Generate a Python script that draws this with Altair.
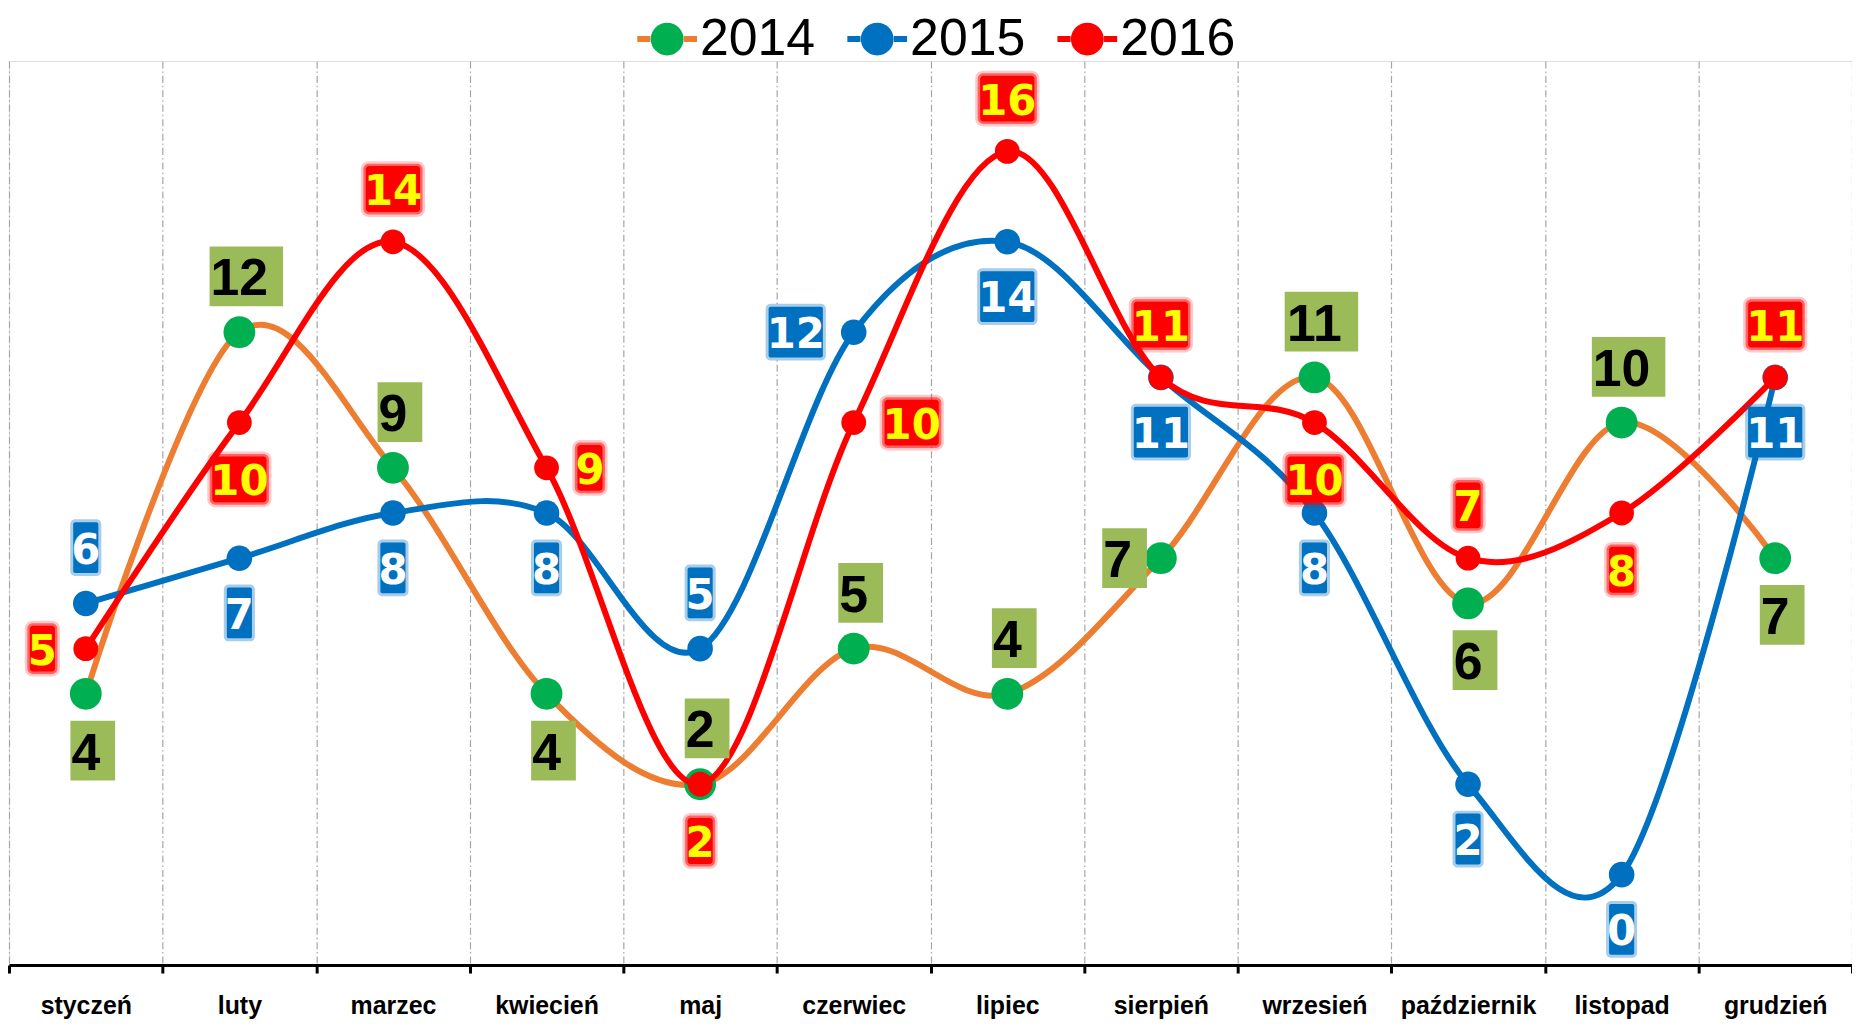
import altair as alt
import pandas as pd

months = ["styczeń", "luty", "marzec", "kwiecień", "maj", "czerwiec", "lipiec",
          "sierpień", "wrzesień", "październik", "listopad", "grudzień"]
series_names = ["2014", "2015", "2016"]
v2014 = [4, 12, 9, 4, 2, 5, 4, 7, 11, 6, 10, 7]
v2015 = [6, 7, 8, 8, 5, 12, 14, 11, 8, 2, 0, 11]
v2016 = [5, 10, 14, 9, 2, 10, 16, 11, 10, 7, 8, 11]
# which side of the point each data label sits on
side2014 = ["below", "above", "above", "below", "above", "above", "above", "left", "above", "below", "above", "below"]
side2015 = ["above", "below", "below", "below", "above", "left", "below", "below", "below", "below", "below", "below"]
side2016 = ["left", "below", "above", "right", "below", "right", "above", "above", "below", "above", "below", "above"]

values = {"2014": v2014, "2015": v2015, "2016": v2016}
sides = {"2014": side2014, "2015": side2015, "2016": side2016}

rows = []
for s in series_names:
    for i, m in enumerate(months):
        rows.append({"month": m, "xc": i + 0.5, "value": values[s][i], "series": s, "side": sides[s][i]})
df = pd.DataFrame(rows)

W, H = 1851, 908
BAND = W / 12

line_colors = ["#ED7D31", "#0070C0", "#FF0000"]
marker_colors = ["#00B050", "#0070C0", "#FF0000"]
marker_size = {"2014": 1020, "2015": 660, "2016": 620}

js_months = "[" + ",".join("'" + m + "'" for m in months) + "]"
x_enc = alt.X(
    "xc:Q",
    scale=alt.Scale(domain=[0, 12], nice=False, zero=False),
    axis=alt.Axis(
        values=list(range(13)),
        labelExpr="datum.value < 12 ? " + js_months + "[datum.value] : ''",
        labelOffset=BAND / 2,
        labelFlush=False,
        labelOverlap=False,
        labelFont="Liberation Sans",
        labelFontWeight="bold",
        labelFontSize=25,
        labelColor="black",
        labelBaseline="middle",
        labelPadding=33,
        grid=True,
        gridColor="#A6A6A6",
        gridWidth=1.2,
        gridDash=[7, 3, 1.5, 3],
        domainColor="black",
        domainWidth=3,
        tickColor="black",
        tickWidth=3,
        tickSize=8,
        title=None,
    ),
)
y_enc = alt.Y("value:Q", scale=alt.Scale(domain=[-2, 18], nice=False, zero=False), axis=None)

legend_common = dict(
    orient="none", direction="horizontal", legendX=628, legendY=-55, title=None,
    labelFont="Liberation Sans", labelFontSize=52, labelColor="black", labelOffset=0,
    columnPadding=20, symbolSize=3600, symbolStrokeWidth=6, padding=0,
)
bar_path = "M-1,-0.6M-1,0H-0.56M0.56,0H1M1,0.6"
circ_path = "M-1,-0.6M1,0.6M0.55,0A0.55,0.55,0,1,1,-0.55,0A0.55,0.55,0,1,1,0.55,0Z"

stroke_enc = alt.Stroke(
    "series:N",
    scale=alt.Scale(range=line_colors),
    legend=alt.Legend(symbolType=bar_path, labelOpacity=0, **legend_common),
)
fill_enc = alt.Fill(
    "series:N",
    scale=alt.Scale(domain=series_names, range=marker_colors),
    legend=alt.Legend(symbolType=circ_path, symbolStrokeColor="transparent", **legend_common),
)

base = alt.Chart(df)
layers = []
for s in series_names:
    f = alt.datum.series == s
    layers.append(
        base.transform_filter(f)
        .mark_line(strokeWidth=6, interpolate="cardinal", tension=0)
        .encode(x=x_enc, y=y_enc, stroke=stroke_enc)
    )
    layers.append(
        base.transform_filter(f)
        .mark_circle(size=marker_size[s], opacity=1)
        .encode(x=x_enc, y=y_enc, fill=fill_enc)
    )

lab = {
    "2014": dict(font="Liberation Sans", size=52, color="black", box="#9BBB59",
                 above=-56, below=57, padl=1, padr=15, boxh=60, charw=0.556 * 52, glow=[], cr=0),
    "2015": dict(font="DejaVu Sans", size=42, color="white", box="#0070C0",
                 above=-56, below=55, padl=-2, padr=-2, boxh=51, charw=0.696 * 42, glow=[(3, 0.35)], cr=2),
    "2016": dict(font="DejaVu Sans", size=42, color="#FFFF00", box="#FF0000",
                 above=-53, below=57, padl=-2, padr=-2, boxh=46, charw=0.696 * 42,
                 glow=[(5, 0.22), (2.5, 0.5)], cr=3),
}
D = 29

for s in series_names:
    st = lab[s]
    present = set()
    for v, sd in zip(values[s], sides[s]):
        present.add((sd, 2 if v >= 10 else 1))
    # boxes
    for (sd, nd) in sorted(present):
        tw = nd * st["charw"]
        if sd in ("above", "below"):
            cy = st[sd]
            tl = -tw / 2
        elif sd == "left":
            cy = 0
            tl = -D - tw
        else:
            cy = 0
            tl = D
        x0, x1 = tl - st["padl"], tl + tw + st["padr"]
        y0, y1 = cy - st["boxh"] / 2, cy + st["boxh"] / 2
        flt = f"datum.series == '{s}' && datum.side == '{sd}' && datum.nd == {nd}"
        for g, op in st["glow"] + [(0, 1)]:
            layers.append(
                base.transform_calculate(nd="datum.value >= 10 ? 2 : 1")
                .transform_filter(flt)
                .mark_rect(color=st["box"], opacity=op, cornerRadius=st["cr"] + g,
                           xOffset=x0 - g, x2Offset=x1 + g, yOffset=y0 - g, y2Offset=y1 + g)
                .encode(x=x_enc, x2=alt.X2("xc:Q"), y=y_enc, y2=alt.Y2("value:Q"))
            )
    # texts
    for sd in ["above", "below", "left", "right"]:
        if sd not in sides[s]:
            continue
        if sd in ("above", "below"):
            kw = dict(align="center", dx=0, dy=st[sd] + 3)
        elif sd == "left":
            kw = dict(align="right", dx=-D, dy=3)
        else:
            kw = dict(align="left", dx=D, dy=3)
        layers.append(
            base.transform_filter(f"datum.series == '{s}' && datum.side == '{sd}'")
            .mark_text(font=st["font"], fontSize=st["size"], fontWeight="bold",
                       color=st["color"], baseline="middle", **kw)
            .encode(x=x_enc, y=y_enc, text=alt.Text("value:Q"))
        )

chart = (
    alt.layer(*layers)
    .properties(
        width=W, height=H,
        padding={"left": 1, "right": 0, "top": 51, "bottom": 59},
        autosize=alt.AutoSizeParams(type="none"),
        background="white",
    )
    .configure_view(stroke=None)
    .configure(font="Liberation Sans")
)

chart.save("out.html", embed_options={"renderer": "svg", "actions": False})
